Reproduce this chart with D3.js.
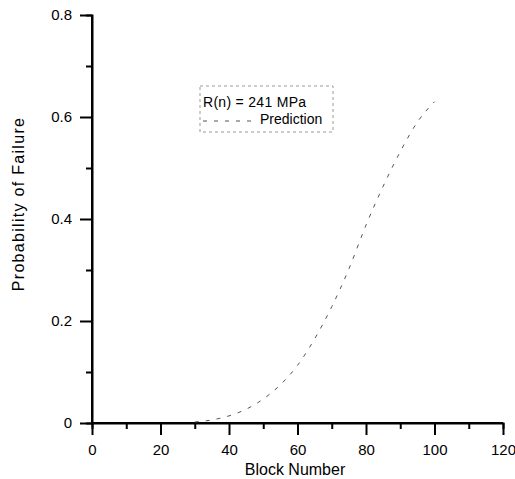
<!DOCTYPE html>
<html>
<head>
<meta charset="utf-8">
<script src="https://cdn.jsdelivr.net/npm/d3@7"></script>
<style>
  body { margin: 0; background: #fff; }
  text { font-family: "Liberation Sans", Arial, sans-serif; }
</style>
</head>
<body>
<svg id="svg" width="515" height="479"></svg>
<script>
// data
var blocks = [30, 35, 40, 45, 50, 55, 60, 65, 70, 75, 80, 85, 90, 95, 100];
var probFail = [0.002, 0.006, 0.014, 0.027, 0.047, 0.075, 0.113, 0.165, 0.228, 0.302, 0.388, 0.464, 0.532, 0.590, 0.630];
var xTicks = [0, 20, 40, 60, 80, 100, 120];
var yTicks = [0, 0.2, 0.4, 0.6, 0.8];
var seriesName = "Prediction";
var legendTitle = "R(n) = 241 MPa";

var svg = d3.select("#svg");
var g = svg.append("g");

// scales
var scaleX = d3.scaleLinear().domain([0, 120]).range([92, 503]);
var scaleY = d3.scaleLinear().domain([0, 0.8]).range([423, 15]);

// minor ticks
var axisXMinor = d3.axisBottom(scaleX).tickValues(d3.range(10, 120, 20)).tickSize(6).tickFormat("");
var gxm = g.append("g").attr("transform", "translate(0,423)").call(axisXMinor);
var axisYMinor = d3.axisLeft(scaleY).tickValues([0.1, 0.3, 0.5, 0.7]).tickSize(6).tickFormat("");
var gym = g.append("g").attr("transform", "translate(92,0)").call(axisYMinor);

// major axes
var axisX = d3.axisBottom(scaleX).tickValues(xTicks).tickSize(12).tickPadding(9).tickFormat(d3.format("d"));
var gx = g.append("g").attr("transform", "translate(0,423)").call(axisX);
var axisY = d3.axisLeft(scaleY).tickValues(yTicks).tickSize(12).tickPadding(8)
  .tickFormat(function(d) { return d === 0 ? "0" : d3.format(".1f")(d); });
var gy = g.append("g").attr("transform", "translate(92,0)").call(axisY);

[gx, gy, gxm, gym].forEach(function(a) {
  a.select(".domain").attr("stroke", "#000").attr("stroke-width", 2);
  a.selectAll(".tick line").attr("stroke", "#000").attr("stroke-width", 2);
  a.selectAll("text").attr("fill", "#000").style("font-size", "15px")
    .style("font-family", "'Liberation Sans', Arial, sans-serif");
});
gx.select(".domain").attr("d", "M" + scaleX(0) + ",0H" + scaleX(120));
gy.select(".domain").attr("d", "M0," + scaleY(0) + "V" + scaleY(0.8));

// curve
var line = d3.line()
  .x(function(d, i) { return scaleX(blocks[i]); })
  .y(function(d) { return scaleY(d); })
  .curve(d3.curveMonotoneX);
g.append("path")
  .datum(probFail)
  .attr("d", line)
  .attr("fill", "none")
  .attr("stroke", "#555")
  .attr("stroke-width", 1)
  .attr("stroke-dasharray", "4,7");

// axis titles
svg.append("text")
  .attr("text-anchor", "middle")
  .attr("x", 295)
  .attr("y", 475)
  .style("font-size", "16px")
  .text("Block Number");

svg.append("text")
  .attr("text-anchor", "middle")
  .attr("transform", "translate(24,204) rotate(-90)")
  .style("font-size", "16px")
  .style("letter-spacing", "1.3px")
  .text("Probability of Failure");

// legend
var leg = svg.append("g");
leg.append("rect")
  .attr("x", 200).attr("y", 86).attr("width", 133).attr("height", 46)
  .attr("fill", "none").attr("stroke", "#999").attr("stroke-width", 1)
  .attr("stroke-dasharray", "3,3");
leg.append("text").attr("x", 203).attr("y", 107).style("font-size", "14px")
  .style("letter-spacing", "0.3px").text(legendTitle);
leg.append("line")
  .attr("x1", 203).attr("x2", 255).attr("y1", 121).attr("y2", 121)
  .attr("stroke", "#555").attr("stroke-width", 1).attr("stroke-dasharray", "4,7");
leg.append("text").attr("x", 260).attr("y", 124).style("font-size", "14px").text(seriesName);
</script>
</body>
</html>
